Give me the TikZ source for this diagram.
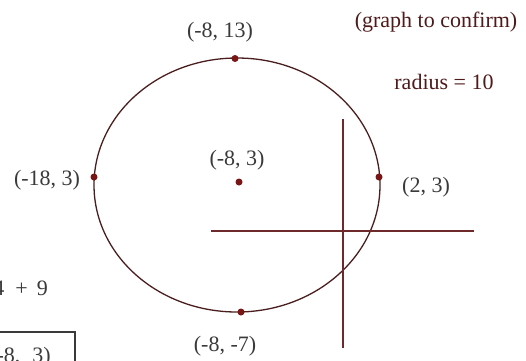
\documentclass[tikz,border=0pt]{standalone}
\usepackage{fontspec}
\setmainfont{Liberation Serif}
\definecolor{circ}{HTML}{4A1E1E}
\definecolor{axis}{HTML}{6E2A2A}
\definecolor{dotc}{HTML}{7A1515}
\definecolor{txt}{HTML}{3A3A3A}
\definecolor{rtxt}{HTML}{4E1A1A}
\begin{document}
\begin{tikzpicture}[x=1pt,y=-1pt,
  lbl/.style={inner sep=0pt,text=txt,font=\fontsize{22}{26}\selectfont},
  rlbl/.style={inner sep=0pt,text=rtxt,font=\fontsize{22}{26}\selectfont},
  pt/.style={circle,fill=dotc,inner sep=0pt,minimum size=7pt},
  axisline/.style={draw=axis,line width=1.6pt}]
\useasboundingbox (0,0) rectangle (526,360);
\clip (0,0) rectangle (526,360);
\fill[white] (0,0) rectangle (526,360);
% circle
\draw[circ,line width=1.3pt] (237,185) ellipse [x radius=143, y radius=127];
% axes
\coordinate (vt) at (343,119);
\coordinate (vb) at (343,348);
\coordinate (hl) at (211,231);
\coordinate (hr) at (474,231);
\draw[axisline] (vt) -- (vb);
\draw[axisline] (hl) -- (hr);
% points
\node[pt] (top) at (235,58.5) {};
\node[pt] (bot) at (241,312) {};
\node[pt] (lft) at (94,177) {};
\node[pt] (rgt) at (379,177) {};
\node[pt] (ctr) at (239,182) {};
% labels
\node[rlbl] (gc) at (436,22) {(graph to confirm)};
\node[rlbl] (rad) at (444,82) {radius = 10};
\node[lbl] (ltop) at (220,32) {(-8, 13)};
\node[lbl] (llft) at (47,180) {(-18, 3)};
\node[lbl] (lctr) at (237,160) {(-8, 3)};
\node[lbl] (lrgt) at (426,187) {(2, 3)};
\node[lbl] (lbot) at (225,346) {(-8, -7)};
% cut-off text at left
\node[lbl,anchor=east] (eq) at (48,288) {4\hspace{11pt}+\hspace{9pt}9};
\draw[txt,line width=1.2pt] (-10,332) -- (75,332) -- (75,370);
\node[lbl,anchor=north east] (ans) at (51,347) {(-8,\hspace{12pt}3)};
\end{tikzpicture}
\end{document}
